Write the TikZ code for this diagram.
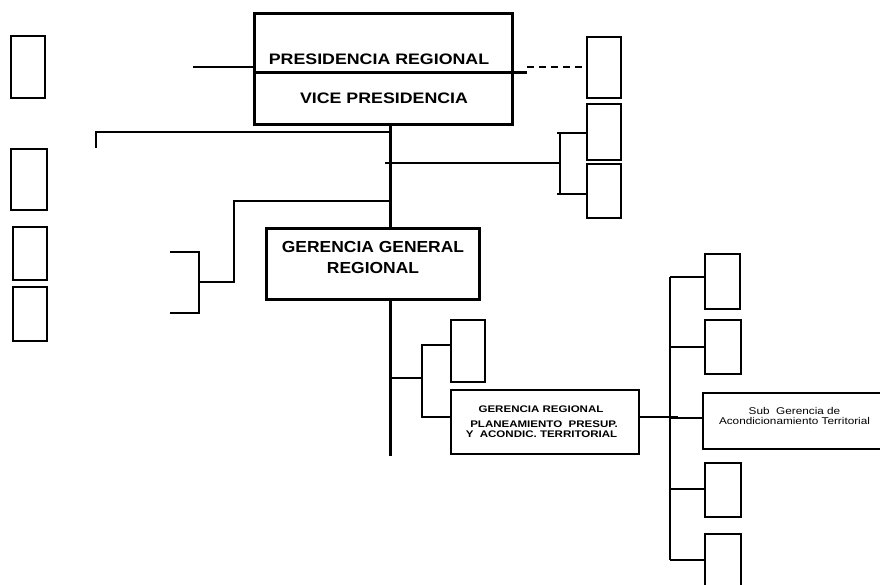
\documentclass[tikz,border=0pt]{standalone}
\usepackage{fontspec}
\setmainfont{Liberation Sans}
% horizontally widened faces for the box titles
\newfontfamily\topface[FakeStretch=1.17]{Liberation Sans}
\newfontfamily\midface[FakeStretch=1.09]{Liberation Sans}
\newfontfamily\smallface[FakeStretch=1.2]{Liberation Sans}
\begin{document}
\begin{tikzpicture}[x=1pt,y=-1pt,
  heavy/.style={line width=3pt},
  thin/.style={line width=1.4pt},
  unit/.style={draw,line width=1.8pt,minimum width=34pt,minimum height=#1pt,inner sep=0pt,anchor=north west},
  unit/.default=58,
  bigbox/.style={draw,line width=3pt,inner sep=0pt,anchor=north west},
  label/.style={anchor=base,inner sep=0pt}]
\useasboundingbox (0,0) rectangle (880,584);
\clip (0,0) rectangle (880,584);

% --- top executive block ---
\node[bigbox,minimum width=258pt,minimum height=111pt] (pres) at (253,12) {};
\node[label,font=\topface\fontsize{15.2}{17}\selectfont\bfseries] (prestxt) at (379,64) {PRESIDENCIA REGIONAL};
\node[label,font=\topface\fontsize{15.2}{17}\selectfont\bfseries] (vicetxt) at (384,103) {VICE PRESIDENCIA};
\coordinate (divL) at (253,72);
\coordinate (divR) at (527,72);
\draw[heavy] (divL) -- (divR);
\coordinate (presIn) at (193,67);
\draw[thin] (presIn) -- (presIn -| pres.west);

% --- general management ---
\node[bigbox,minimum width=213pt,minimum height=71pt] (ggr) at (265,227) {};
\node[label,font=\midface\fontsize{16}{18}\selectfont\bfseries] (ggr1) at (373,252) {GERENCIA GENERAL};
\node[label,font=\midface\fontsize{16}{18}\selectfont\bfseries] (ggr2) at (373,273) {REGIONAL};

% main trunk
\coordinate (trunkTop) at (390,124);
\coordinate (trunkBot) at (390,456);
\draw[heavy] (trunkTop) -- (390,227);
\draw[heavy] (390,298) -- (trunkBot);

% --- small units ---
\node[unit=61] (r1) at (586,36) {};
\node[unit=56] (r2) at (586,103) {};
\node[unit=54] (r3) at (586,163) {};
\node[unit=62] (l1) at (10,35) {};
\node[unit=61,minimum width=36pt] (l2) at (10,148) {};
\node[unit=53] (l3) at (12,226) {};
\node[unit=54] (l4) at (12,286) {};
\node[unit=62] (m1) at (450,319) {};
\node[unit=55,minimum width=35pt] (c1) at (704,253) {};
\node[unit=54,minimum width=36pt] (c2) at (704,319) {};
\node[unit=54,minimum width=36pt] (c4) at (704,462) {};
\node[unit=58,minimum width=36pt] (c5) at (704,533) {};

% --- planning management ---
\node[draw,line width=1.8pt,minimum width=188pt,minimum height=64pt,inner sep=0pt,anchor=north west] (grp) at (450,389) {};
\node[label,font=\smallface\fontsize{9.6}{11}\selectfont\bfseries] (grp1) at (541,412) {GERENCIA REGIONAL};
\node[label,font=\smallface\fontsize{9.6}{11}\selectfont\bfseries] (grp2) at (544,427.5) {PLANEAMIENTO\ \ PRESUP.};
\node[label,font=\smallface\fontsize{9.6}{11}\selectfont\bfseries] (grp3) at (541.5,437) {Y\ \ ACONDIC. TERRITORIAL};

\node[draw,line width=1.8pt,minimum width=190pt,minimum height=56pt,inner sep=0pt,anchor=north west] (sg) at (702,392) {};
\node[label,font=\smallface\fontsize{9.8}{11}\selectfont] (sg1) at (794.5,414) {Sub\ \ Gerencia de};
\node[label,font=\smallface\fontsize{9.8}{11}\selectfont] (sg2) at (794.5,424) {Acondicionamiento Territorial};

% --- connectors ---
% link to the right of the presidency
\draw[thin,dash pattern=on 7pt off 5pt] (divR |- presIn) -- (r1.west |- presIn);

% left branch with open end
\coordinate (lb1) at (96,132);
\coordinate (lb1end) at (96,148);
\draw[thin] (390,132) -- (lb1) -- (lb1end);

% right bracket to two units
\coordinate (rb) at (560,163);
\draw[thin] (385,163) -- (rb);
\draw[thin] (557,133) -- (r2.west |- 0,133);
\draw[thin] (560,133) -- (560,194);
\draw[thin] (557,194) -- (r3.west |- 0,194);

% left bracket with two open stubs
\coordinate (lb2) at (234,201);
\coordinate (lb2low) at (234,282);
\coordinate (lbr) at (199,282);
\coordinate (stubA) at (170,252);
\coordinate (stubB) at (170,313);
\draw[thin] (390,201) -- (lb2) -- (lb2low) -- (lbr);
\draw[thin] (stubA) -- (199,252) -- (199,313) -- (stubB);

% lower branch to the planning management
\coordinate (mb) at (422,378);
\draw[thin] (390,378) -- (mb);
\draw[thin] (m1.west |- 0,345) -- (422,345) -- (422,417) -- (grp.west |- 0,417);

% right column of sub-units
\coordinate (spine) at (670,417);
\draw[thin] (grp.east |- spine) -- (678,417);
\draw[thin] (670,277) -- (670,560);
\draw[thin] (670,277) -- (c1.west |- 0,277);
\draw[thin] (670,347) -- (c2.west |- 0,347);
\draw[thin] (670,418) -- (sg.west |- 0,418);
\draw[thin] (670,489) -- (c4.west |- 0,489);
\draw[thin] (670,560) -- (c5.west |- 0,560);
\end{tikzpicture}
\end{document}
